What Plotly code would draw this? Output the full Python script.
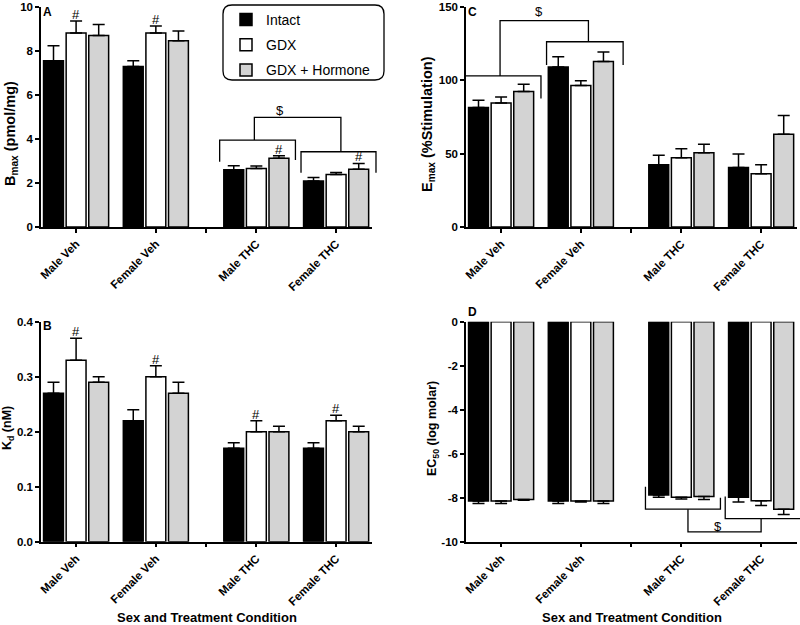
import plotly.graph_objects as go

W, H = 800, 625

# ---------------- data ----------------
GROUPS = ["Male Veh", "Female Veh", "Male THC", "Female THC"]
GROUP_X = [0, 1, 2.26, 3.26]
GAP_TICK = 1.63
SERIES = ["Intact", "GDX", "GDX + Hormone"]
COLORS = ["#000000", "#ffffff", "#d3d3d3"]

BMAX_INTACT = [7.56, 7.29, 2.60, 2.09]
BMAX_GDX = [8.82, 8.82, 2.66, 2.39]
BMAX_HORM = [8.70, 8.47, 3.12, 2.63]
BMAX_INTACT_ERR = [0.68, 0.27, 0.18, 0.16]
BMAX_GDX_ERR = [0.54, 0.32, 0.11, 0.09]
BMAX_HORM_ERR = [0.50, 0.44, 0.12, 0.26]

KD_INTACT = [0.27, 0.22, 0.17, 0.17]
KD_GDX = [0.33, 0.30, 0.20, 0.22]
KD_HORM = [0.29, 0.27, 0.20, 0.20]
KD_INTACT_ERR = [0.02, 0.02, 0.01, 0.01]
KD_GDX_ERR = [0.04, 0.02, 0.02, 0.01]
KD_HORM_ERR = [0.01, 0.02, 0.01, 0.01]

EMAX_INTACT = [81.5, 109.1, 42.4, 40.6]
EMAX_GDX = [84.6, 96.4, 47.2, 36.3]
EMAX_HORM = [92.4, 112.8, 50.6, 63.3]
EMAX_INTACT_ERR = [5.0, 6.9, 6.6, 9.1]
EMAX_GDX_ERR = [4.1, 3.4, 6.1, 6.1]
EMAX_HORM_ERR = [4.9, 6.6, 5.9, 12.7]

EC50_INTACT = [-8.15, -8.15, -7.88, -7.98]
EC50_GDX = [-8.15, -8.15, -7.98, -8.14]
EC50_HORM = [-8.08, -8.15, -7.95, -8.53]
EC50_INTACT_ERR = [0.11, 0.11, 0.10, 0.22]
EC50_GDX_ERR = [0.11, 0.05, 0.08, 0.22]
EC50_HORM_ERR = [0.04, 0.11, 0.13, 0.23]

# '#' markers: (series index, group index)
BMAX_HASH = [(1, 0), (1, 1), (2, 2), (2, 3)]
KD_HASH = [(1, 0), (1, 1), (1, 2), (1, 3)]

FONT = "Liberation Sans, Arial, sans-serif"
BARGAP = 0.15
BARGROUPGAP = 0.12
SLOT = (1 - BARGAP) / 3
XRANGE = [-0.44, 3.71]


def fx(px):
    return px / W


def fy(py):
    return 1 - py / H


PANELS = {
    "A": dict(xa="x", ya="y", xd=(41, 372), yd=(7, 227), yr=[0, 10],
              tv=[0, 2, 4, 6, 8, 10], tt=["0", "2", "4", "6", "8", "10"]),
    "B": dict(xa="x2", ya="y2", xd=(41, 372), yd=(321.7, 541.7), yr=[0, 0.4],
              tv=[0, 0.1, 0.2, 0.3, 0.4], tt=["0.0", "0.1", "0.2", "0.3", "0.4"]),
    "C": dict(xa="x3", ya="y3", xd=(466, 797), yd=(7, 227), yr=[0, 150],
              tv=[0, 50, 100, 150], tt=["0", "50", "100", "150"]),
    "D": dict(xa="x4", ya="y4", xd=(466, 797), yd=(321.7, 541.7), yr=[-10, 0],
              tv=[0, -2, -4, -6, -8, -10], tt=["0", "-2", "-4", "-6", "-8", "-10"]),
}

DATA = {
    "A": ([BMAX_INTACT, BMAX_GDX, BMAX_HORM], [BMAX_INTACT_ERR, BMAX_GDX_ERR, BMAX_HORM_ERR]),
    "B": ([KD_INTACT, KD_GDX, KD_HORM], [KD_INTACT_ERR, KD_GDX_ERR, KD_HORM_ERR]),
    "C": ([EMAX_INTACT, EMAX_GDX, EMAX_HORM], [EMAX_INTACT_ERR, EMAX_GDX_ERR, EMAX_HORM_ERR]),
    "D": ([EC50_INTACT, EC50_GDX, EC50_HORM], [EC50_INTACT_ERR, EC50_GDX_ERR, EC50_HORM_ERR]),
}

fig = go.Figure()

for key, p in PANELS.items():
    vals_list, errs_list = DATA[key]
    for i, name in enumerate(SERIES):
        errs = errs_list[i]
        zeros = [0] * len(errs)
        if key == "D":
            ey = dict(type="data", symmetric=False, array=zeros, arrayminus=errs,
                      color="black", thickness=1.5, width=6)
        else:
            ey = dict(type="data", symmetric=False, array=errs, arrayminus=zeros,
                      color="black", thickness=1.5, width=6)
        fig.add_trace(go.Bar(
            x=GROUP_X, y=vals_list[i], name=name,
            xaxis=p["xa"], yaxis=p["ya"],
            marker=dict(color=COLORS[i], line=dict(color="black", width=1.5)),
            error_y=ey, legendgroup=name, showlegend=(key == "A"),
        ))

layout_axes = {}
for key, p in PANELS.items():
    xname = "xaxis" if p["xa"] == "x" else "xaxis" + p["xa"][1:]
    yname = "yaxis" if p["ya"] == "y" else "yaxis" + p["ya"][1:]
    layout_axes[xname] = dict(
        domain=[fx(p["xd"][0]), fx(p["xd"][1])], anchor=p["ya"], range=XRANGE,
        tickmode="array", tickvals=GROUP_X, ticktext=GROUPS, tickangle=-45,
        ticks="outside", ticklen=4, tickwidth=1.5, tickcolor="black",
        minor=dict(tickmode="array", tickvals=[GAP_TICK], ticks="outside", ticklen=4,
                   tickwidth=1.5, tickcolor="black", showgrid=False),
        showline=True, linecolor="black", linewidth=1.5, showgrid=False,
        zeroline=False, automargin=False,
        tickfont=dict(family=FONT, size=11.5, color="black", weight="bold"),
    )
    layout_axes[yname] = dict(
        domain=[fy(p["yd"][1]), fy(p["yd"][0])], anchor=p["xa"], range=p["yr"],
        tickmode="array", tickvals=p["tv"], ticktext=p["tt"],
        ticks="outside", ticklen=4, tickwidth=1.5, tickcolor="black",
        showline=True, linecolor="black", linewidth=1.5, showgrid=False,
        zeroline=False, automargin=False,
        tickfont=dict(family=FONT, size=11.5, color="black", weight="bold"),
    )

annotations = []
shapes = []

for key, hashes in (("A", BMAX_HASH), ("B", KD_HASH)):
    p = PANELS[key]
    vals_list, errs_list = DATA[key]
    for si, gi in hashes:
        annotations.append(dict(
            x=GROUP_X[gi] + (si - 1) * SLOT, y=vals_list[si][gi] + errs_list[si][gi],
            xref=p["xa"], yref=p["ya"], text="#", showarrow=False,
            yanchor="bottom", yshift=-3, font=dict(family=FONT, size=13, color="black"),
        ))


def data_to_paper_x(key, xv):
    p = PANELS[key]
    x0, x1 = p["xd"]
    return fx(x0 + (xv - XRANGE[0]) / (XRANGE[1] - XRANGE[0]) * (x1 - x0))


def bracket(key, xl, xr, yh, yl, yr):
    p = PANELS[key]
    a = data_to_paper_x(key, xl)
    b = data_to_paper_x(key, xr)
    path = f"M{a},{yl} L{a},{yh} L{b},{yh} L{b},{yr}"
    shapes.append(dict(type="path", path=path, xref="paper", yref=p["ya"],
                       line=dict(color="black", width=1.3)))


# Panel A brackets (THC groups)
bracket("A", GROUP_X[2] - 0.46, GROUP_X[2] + 0.49, 3.95, 2.97, 3.05)
bracket("A", GROUP_X[3] - 0.44, GROUP_X[3] + 0.50, 3.42, 2.47, 2.47)
bracket("A", GROUP_X[2] - 0.025, GROUP_X[3] + 0.06, 4.98, 3.95, 3.42)
annotations.append(dict(x=data_to_paper_x("A", GROUP_X[2] + 0.30), y=5.3, xref="paper", yref="y",
                        text="$", showarrow=False, yanchor="middle",
                        font=dict(family=FONT, size=13, color="black")))

# Panel C brackets (Veh groups)
bracket("C", GROUP_X[0] - 0.45, GROUP_X[0] + 0.50, 103, 88.5, 87.6)
bracket("C", GROUP_X[1] - 0.43, GROUP_X[1] + 0.53, 126.3, 110.5, 110.5)
bracket("C", GROUP_X[0] - 0.013, GROUP_X[1] + 0.095, 140.7, 103, 126.3)
annotations.append(dict(x=data_to_paper_x("C", GROUP_X[0] + 0.55), y=146.8, xref="paper", yref="y3",
                        text="$", showarrow=False, yanchor="middle",
                        font=dict(family=FONT, size=13, color="black")))

# Panel D brackets (THC groups, below)
bracket("D", GROUP_X[2] - 0.45, GROUP_X[2] + 0.49, -8.52, -7.5, -8.0)
bracket("D", GROUP_X[3] - 0.45, GROUP_X[3] + 0.53, -8.95, -7.95, -8.05)
bracket("D", GROUP_X[2] + 0.083, GROUP_X[3] + 0.0, -9.55, -8.52, -8.95)
annotations.append(dict(x=data_to_paper_x("D", GROUP_X[2] + 0.53), y=-9.33, xref="paper", yref="y4",
                        text="$", showarrow=False, yanchor="middle",
                        font=dict(family=FONT, size=13, color="black")))

# panel letters
for letter, (px, py) in {"A": (47.5, 12), "B": (47.5, 326), "C": (472.5, 12), "D": (472.5, 312)}.items():
    annotations.append(dict(x=fx(px), y=fy(py), xref="paper", yref="paper", text=f"<b>{letter}</b>",
                            showarrow=False, xanchor="center", yanchor="middle",
                            font=dict(family=FONT, size=12, color="black")))

# y-axis titles
YTITLES = [("B<sub>max</sub> (pmol/mg)", 11, 134, 14.5), ("K<sub>d</sub> (nM)", 8, 428, 12.5),
           ("E<sub>max</sub> (%Stimulation)", 428, 124, 14.5), ("EC<sub>50</sub> (log molar)", 433, 429, 12.5)]
for txt, px, py, fs in YTITLES:
    annotations.append(dict(x=fx(px), y=fy(py), xref="paper", yref="paper", text=f"<b>{txt}</b>",
                            textangle=-90, showarrow=False, xanchor="center", yanchor="middle",
                            font=dict(family=FONT, size=fs, color="black")))

# x-axis titles
for px in (206.5, 631.5):
    annotations.append(dict(x=fx(px), y=fy(617), xref="paper", yref="paper",
                            text="<b>Sex and Treatment Condition</b>", showarrow=False,
                            xanchor="center", yanchor="middle",
                            font=dict(family=FONT, size=13, color="black")))

# rounded legend box
lx0, ly0, lx1, ly1, r = 223, 5, 384, 80, 9
path = (f"M{fx(lx0 + r)},{fy(ly0)} L{fx(lx1 - r)},{fy(ly0)} Q{fx(lx1)},{fy(ly0)} {fx(lx1)},{fy(ly0 + r)} "
        f"L{fx(lx1)},{fy(ly1 - r)} Q{fx(lx1)},{fy(ly1)} {fx(lx1 - r)},{fy(ly1)} "
        f"L{fx(lx0 + r)},{fy(ly1)} Q{fx(lx0)},{fy(ly1)} {fx(lx0)},{fy(ly1 - r)} "
        f"L{fx(lx0)},{fy(ly0 + r)} Q{fx(lx0)},{fy(ly0)} {fx(lx0 + r)},{fy(ly0)} Z")
shapes.append(dict(type="path", path=path, xref="paper", yref="paper",
                   line=dict(color="black", width=1.3), fillcolor="rgba(0,0,0,0)"))

fig.update_layout(
    width=W, height=H, margin=dict(l=0, r=0, t=0, b=0),
    template="none", paper_bgcolor="white", plot_bgcolor="white",
    barmode="group", bargap=BARGAP, bargroupgap=BARGROUPGAP,
    font=dict(family=FONT, color="black"),
    showlegend=True,
    legend=dict(x=fx(226), y=fy(4), xanchor="left", yanchor="top",
                bgcolor="rgba(0,0,0,0)", borderwidth=0, tracegroupgap=4,
                font=dict(family=FONT, size=14, color="black")),
    annotations=annotations, shapes=shapes,
    **layout_axes,
)

fig.write_html(
    "out.html",
    config={"displayModeBar": False},
    post_script="document.body.style.margin='0px';document.documentElement.style.overflow='hidden';",
)
